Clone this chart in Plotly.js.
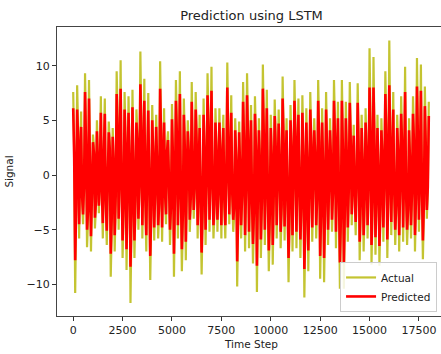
<!DOCTYPE html>
<html>
<head>
<meta charset="utf-8">
<script src="https://cdn.plot.ly/plotly-3.0.1.min.js"></script>
<style>
html,body{margin:0;padding:0;overflow:hidden;background:#fff;width:441px;height:354px;}
#chart{width:460px;height:354px;}
</style>
</head>
<body>
<div id="chart"></div>
<script>
// Time step spacing between stored samples (sample i is at time step i*STEP)
const STEP = 50;

// Actual signal, samples at time steps 0,50,...,18000
const actual = [
 7.6,2.1,-10.8,-3.5,8.2,4.0,-5.8,1.2,5.8,-2.4,-4.5,-1.0,9.3,3.3,-6.6,-4.2,8.7,0.8,-7.0,-2.0,
 3.7,2.6,-4.9,-3.0,5.0,1.5,-3.5,0.4,7.2,-1.8,-5.8,2.2,7.0,-3.1,-6.4,-0.6,4.9,3.0,-9.3,-5.0,
 4.3,1.0,-7.0,-2.6,9.5,5.2,-5.0,1.4,10.5,-0.5,-7.6,-3.8,7.6,3.5,-8.7,-1.5,7.2,2.0,-11.7,-4.5,
 7.8,0.6,-7.6,-2.9,6.0,3.8,-5.0,-1.2,11.3,4.6,-5.8,0.9,8.8,-2.5,-7.0,1.8,7.5,-0.8,-9.6,-4.0,
 6.4,2.4,-6.0,-1.6,5.5,1.1,-5.8,-3.3,10.4,3.9,-6.1,0.3,6.1,-2.2,-4.5,2.8,4.0,-1.0,-6.4,-3.6,
 6.5,1.9,-9.3,-2.4,8.7,4.4,-5.8,0.7,9.5,-1.9,-8.8,-4.6,7.0,3.1,-7.8,-0.9,5.0,2.5,-5.2,-2.7,
 8.5,1.3,-4.0,-1.4,7.6,3.6,-5.8,0.5,5.5,-2.8,-9.1,-3.9,7.0,2.2,-6.4,-1.1,9.3,4.8,-5.2,1.6,
 9.9,-0.7,-5.8,-3.4,6.1,2.7,-5.2,-1.7,6.1,0.9,-5.8,2.3,5.5,-2.9,-5.8,-0.4,10.3,3.7,-4.5,1.0,
 7.3,-2.0,-5.2,-3.7,5.2,1.8,-10.2,-4.4,4.9,0.6,-5.8,-2.1,8.5,3.4,-7.0,-1.3,9.3,4.1,-6.7,0.2,
 6.4,-2.6,-8.1,-4.1,7.2,2.9,-10.7,-1.8,5.2,1.4,-7.6,-3.0,10.1,4.3,-6.4,0.8,7.8,-1.6,-8.8,-4.7,
 5.5,2.0,-8.2,-2.3,6.9,3.2,-5.8,-0.6,6.0,1.7,-6.7,-3.5,9.0,3.9,-6.0,0.4,5.2,-2.2,-9.8,-4.3,
 6.4,2.6,-7.0,-1.0,8.7,4.0,-6.7,1.1,7.0,-1.4,-7.6,-3.2,7.3,2.4,-11.2,-5.1,6.1,1.2,-8.8,-2.7,
 7.6,3.5,-6.1,-0.8,5.2,2.1,-5.8,-2.4,8.7,3.8,-9.5,-4.2,6.1,0.7,-9.8,-3.6,7.6,2.8,-6.4,-1.2,
 5.2,1.6,-5.2,-2.0,8.7,4.5,-6.7,0.3,6.7,-1.9,-10.4,-4.8,8.7,3.0,-10.4,-3.9,6.7,1.9,-6.1,-1.5,
 8.5,3.6,-4.6,0.9,4.6,-2.3,-5.5,-0.5,8.4,2.7,-7.8,-3.4,5.5,1.3,-7.0,-2.8,6.1,2.4,-5.8,-1.1,
 11.6,4.9,-8.2,-3.1,10.8,3.6,-7.3,-2.5,5.5,0.8,-8.3,-3.8,5.2,2.0,-6.1,-0.9,9.5,4.2,-7.6,-2.2,
 12.3,3.3,-5.5,1.0,7.6,-1.7,-6.4,-3.5,5.5,2.5,-7.0,-1.3,7.2,3.1,-6.1,0.2,9.9,-2.1,-6.4,-3.9,
 5.2,1.5,-5.8,-1.8,7.2,3.7,-7.0,-2.6,10.7,4.0,-5.2,0.6,10.1,-1.2,-7.7,-3.3,8.1,2.9,-4.0,-1.4,
 6.7
];

// LSTM prediction, same time steps
const predicted = [
 6.1,1.6,-7.8,-2.7,6.0,3.1,-4.5,1.0,4.4,-1.9,-3.6,-0.8,7.6,2.6,-5.0,-3.3,7.0,0.6,-5.6,-1.6,
 3.0,2.0,-3.9,-2.4,4.0,1.2,-2.8,0.3,5.7,-1.4,-4.4,1.8,5.6,-2.5,-5.1,-0.5,3.9,2.4,-7.2,-3.9,
 3.5,0.8,-5.5,-2.0,7.4,4.1,-4.0,1.1,7.9,-0.4,-6.0,-3.0,6.0,2.8,-6.8,-1.2,5.7,1.6,-8.4,-3.5,
 6.2,0.5,-6.0,-2.3,4.8,3.0,-4.0,-0.9,8.3,3.6,-4.6,0.7,6.8,-2.0,-5.5,1.4,5.9,-0.6,-7.4,-3.2,
 5.0,1.9,-4.8,-1.3,4.4,0.9,-4.6,-2.6,7.9,3.1,-4.8,0.2,4.8,-1.7,-3.6,2.2,3.2,-0.8,-5.0,-2.8,
 5.1,1.5,-7.2,-1.9,6.8,3.5,-4.6,0.6,7.4,-1.5,-6.8,-3.6,5.5,2.4,-6.1,-0.7,4.0,2.0,-4.1,-2.1,
 6.7,1.0,-3.2,-1.1,6.0,2.8,-4.6,0.4,4.3,-2.2,-7.1,-3.1,5.5,1.7,-5.0,-0.9,7.3,3.8,-4.1,1.3,
 7.7,-0.6,-4.6,-2.7,4.8,2.1,-4.1,-1.3,4.8,0.7,-4.6,1.8,4.3,-2.3,-4.6,-0.3,8.0,2.9,-3.6,0.8,
 5.7,-1.6,-4.1,-2.9,4.1,1.4,-7.9,-3.5,3.9,0.5,-4.6,-1.7,6.7,2.7,-5.5,-1.0,7.3,3.2,-5.2,0.2,
 5.0,-2.1,-6.3,-3.2,5.6,2.3,-8.3,-1.4,4.1,1.1,-5.9,-2.4,7.9,3.4,-5.0,0.6,6.1,-1.3,-6.9,-3.7,
 4.3,1.6,-6.4,-1.8,5.4,2.5,-4.6,-0.5,4.7,1.3,-5.2,-2.8,7.0,3.1,-4.7,0.3,4.1,-1.7,-7.6,-3.4,
 5.0,2.1,-5.5,-0.8,6.8,3.2,-5.2,0.9,5.5,-1.1,-5.9,-2.5,5.7,1.9,-8.6,-4.0,4.8,0.9,-6.9,-2.1,
 6.0,2.8,-4.8,-0.6,4.1,1.7,-4.6,-1.9,6.8,3.0,-7.4,-3.3,4.8,0.6,-7.6,-2.8,6.0,2.2,-5.0,-1.0,
 4.1,1.3,-4.1,-1.6,6.8,3.5,-5.2,0.2,5.2,-1.5,-8.0,-3.8,6.8,2.4,-8.0,-3.1,5.2,1.5,-4.8,-1.2,
 6.6,2.8,-3.6,0.7,3.6,-1.8,-4.3,-0.4,6.6,2.1,-6.1,-2.7,4.3,1.0,-5.5,-2.2,4.8,1.9,-4.6,-0.9,
 8.0,3.9,-6.4,-2.4,8.0,2.8,-5.7,-2.0,4.3,0.6,-6.5,-3.0,4.1,1.6,-4.8,-0.7,7.4,3.3,-5.9,-1.7,
 8.2,2.6,-4.3,0.8,6.0,-1.3,-5.0,-2.8,4.3,2.0,-5.5,-1.0,5.6,2.5,-4.8,0.2,7.6,-1.7,-5.0,-3.1,
 4.1,1.2,-4.6,-1.4,5.6,2.9,-5.5,-2.1,8.1,3.2,-4.1,0.5,7.7,-1.0,-6.0,-2.6,6.3,2.3,-3.2,-1.1,
 5.4
];

const seriesNames = ['Actual', 'Predicted'];
const seriesColors = ['#c4c431', '#ff0000'];
const lineWidths = [2.2, 2.6];
const xTickVals = [0, 2500, 5000, 7500, 10000, 12500, 15000, 17500];
const yTickVals = [-10, -5, 0, 5, 10];
const yTickText = ['\u221210', '\u22125', '0', '5', '10'];

const timeSteps = actual.map((_, i) => i * STEP);

const traces = [actual, predicted].map((ys, k) => ({
  x: timeSteps,
  y: ys,
  type: 'scatter',
  mode: 'lines',
  name: seriesNames[k],
  line: {color: seriesColors[k], width: lineWidths[k], simplify: false},
  hoverinfo: 'skip'
}));

const font = {family: 'DejaVu Sans, sans-serif', color: '#222'};

const layout = {
  width: 460,
  height: 354,
  margin: {l: 57, r: 14, t: 27, b: 38, pad: 0},
  paper_bgcolor: '#ffffff',
  plot_bgcolor: '#ffffff',
  font: Object.assign({size: 11}, font),
  title: {
    text: 'Prediction using LSTM',
    font: Object.assign({size: 13}, font),
    x: 0.5, xref: 'paper',
    y: 1 - 15/354, yref: 'container', yanchor: 'middle'
  },
  xaxis: {
    range: [-820, 18870],
    tickvals: xTickVals,
    ticktext: xTickVals.map(String),
    ticks: 'outside', ticklen: 4, tickwidth: 1, tickcolor: '#333',
    showgrid: false, zeroline: false,
    showline: true, linecolor: '#444', linewidth: 1, mirror: true,
    tickfont: Object.assign({size: 11}, font),
    title: {text: 'Time Step', font: Object.assign({size: 10.5}, font), standoff: 4}
  },
  yaxis: {
    range: [-12.9, 13.54],
    tickvals: yTickVals,
    ticktext: yTickText,
    ticks: 'outside', ticklen: 4, tickwidth: 1, tickcolor: '#333',
    showgrid: false, zeroline: false,
    showline: true, linecolor: '#444', linewidth: 1, mirror: true,
    tickfont: Object.assign({size: 11}, font),
    title: {text: 'Signal', font: Object.assign({size: 10.5}, font), standoff: 10}
  },
  showlegend: true,
  legend: {
    x: 0.977, xanchor: 'right',
    y: 0.014, yanchor: 'bottom',
    bgcolor: 'rgba(255,255,255,0.85)',
    bordercolor: '#cccccc', borderwidth: 1,
    font: Object.assign({size: 10.5}, font),
    itemwidth: 30,
    tracegroupgap: 0
  }
};

Plotly.newPlot('chart', traces, layout, {displayModeBar: false, staticPlot: true});
</script>
</body>
</html>
